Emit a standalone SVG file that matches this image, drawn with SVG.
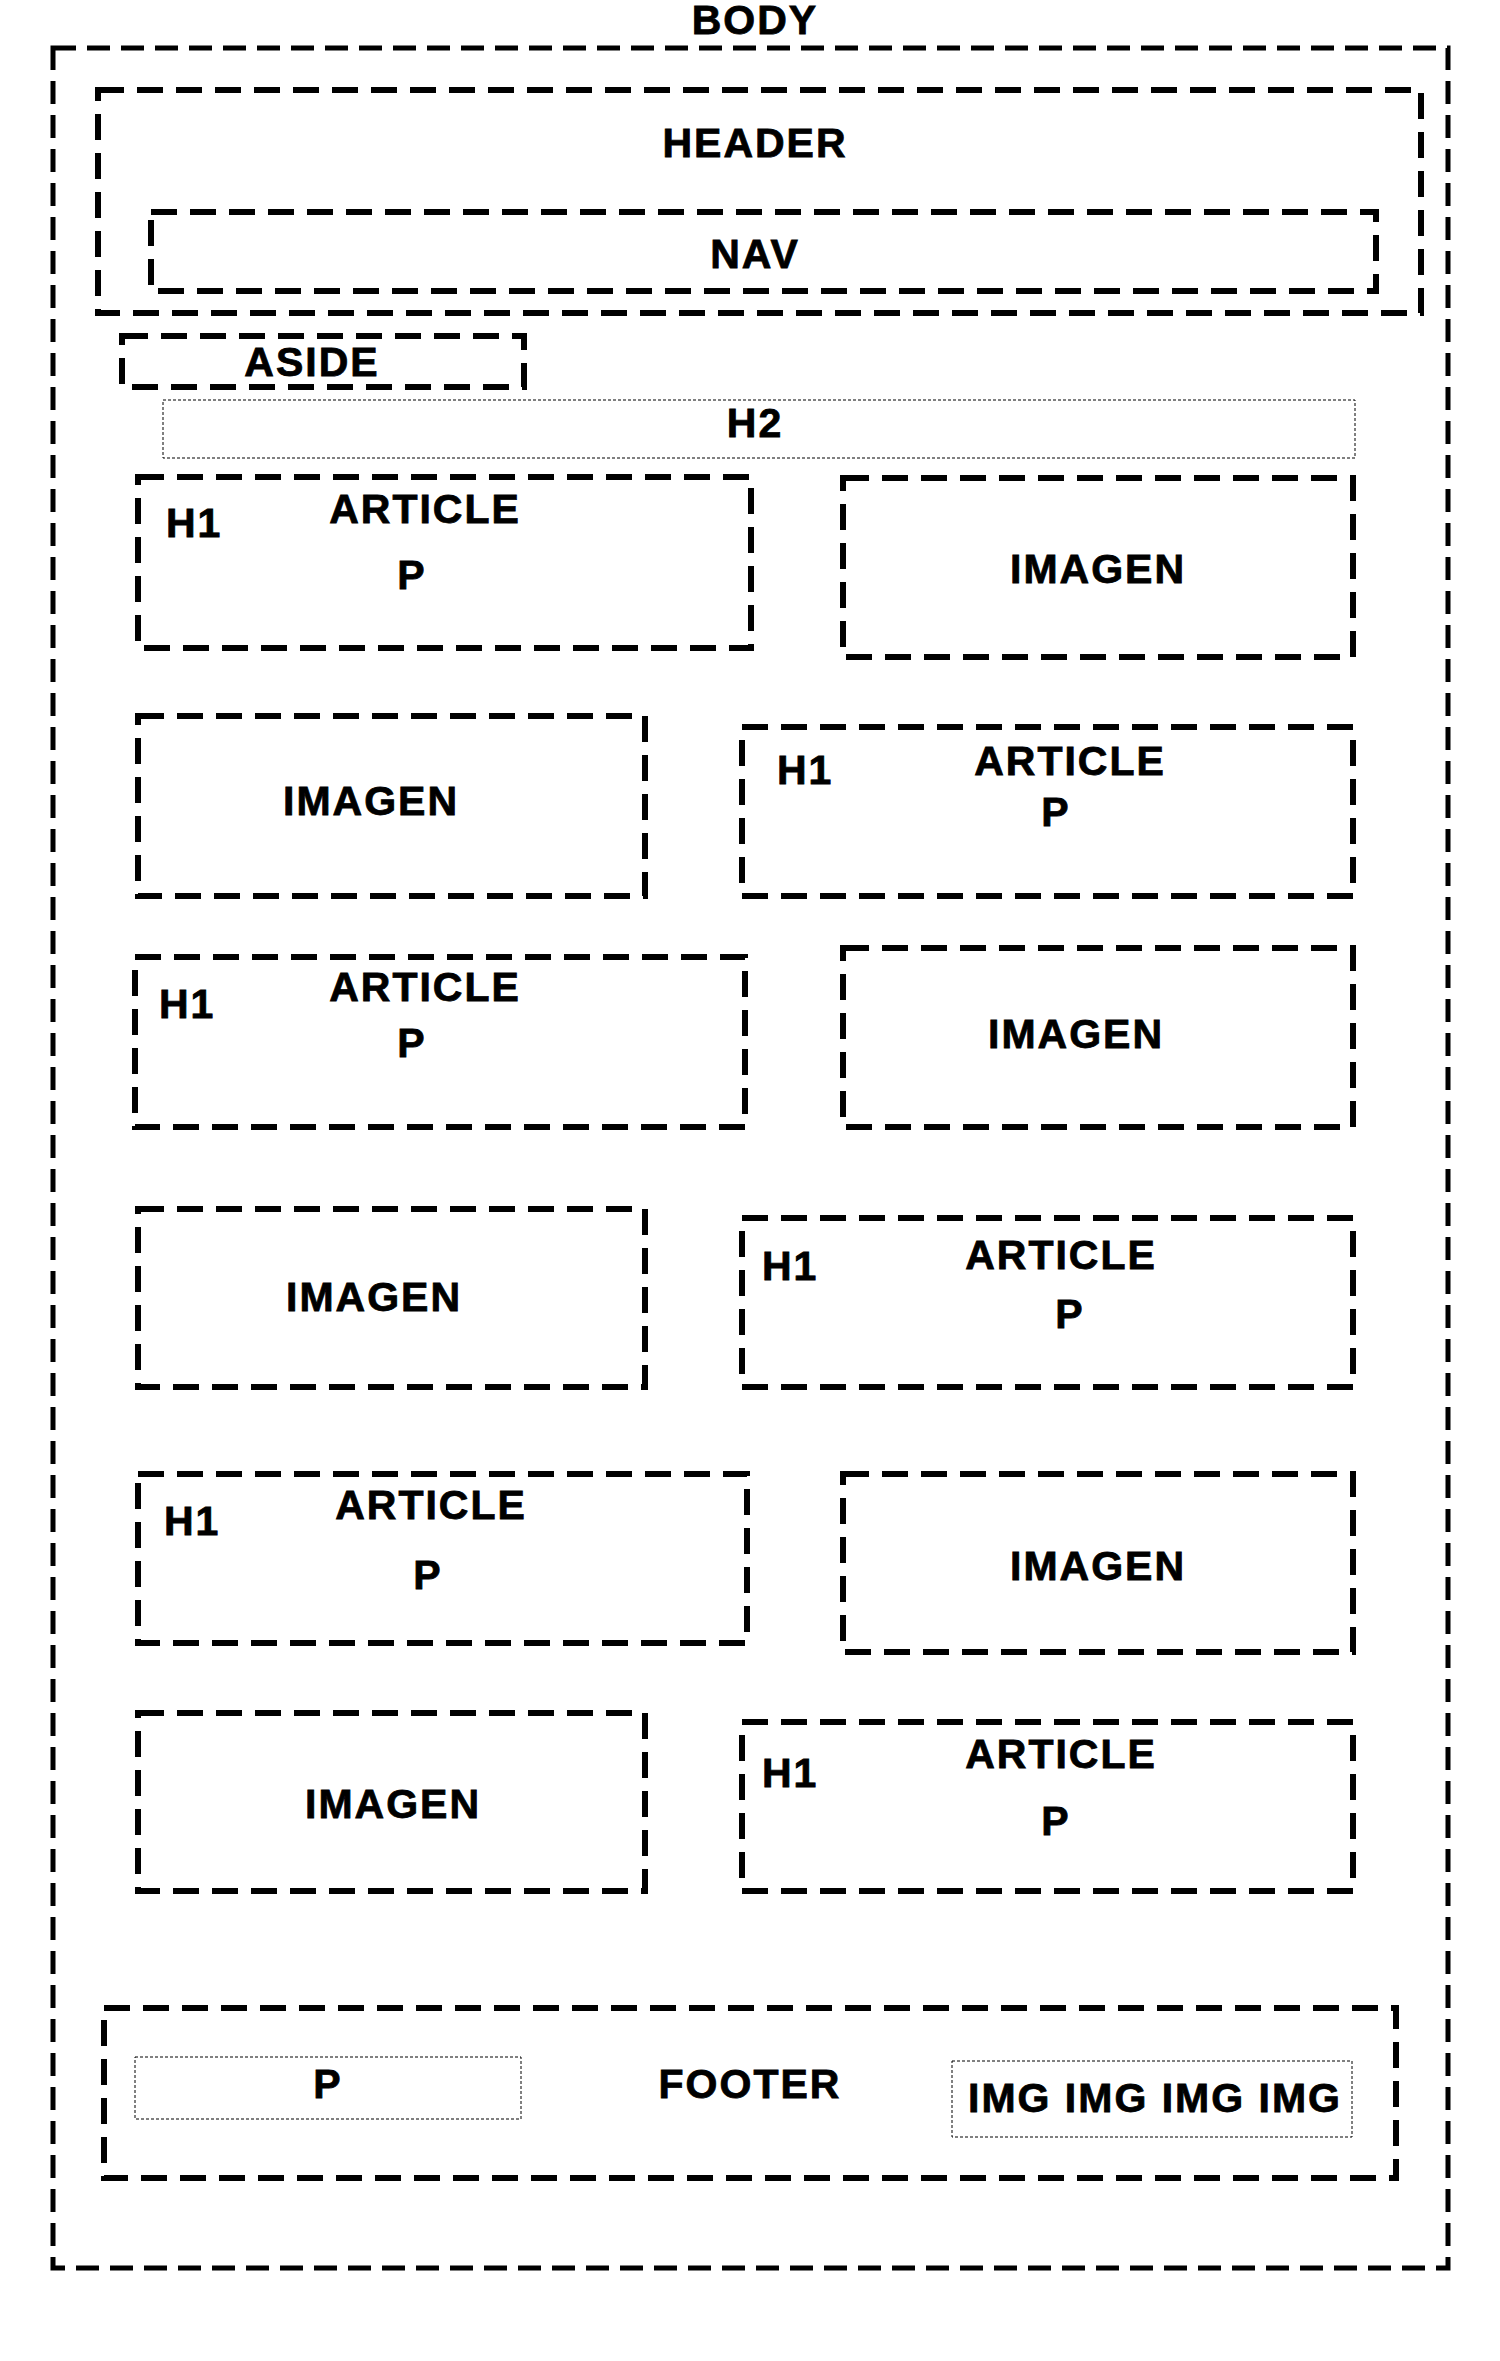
<svg xmlns="http://www.w3.org/2000/svg" width="1500" height="2361" viewBox="0 0 1500 2361">
<style>
  .lbl { font-family: "Liberation Sans", Arial, sans-serif; font-weight: bold; font-size: 41px; letter-spacing: 2px; fill: #000; stroke: #000; stroke-width: 0.8; text-anchor: middle; }
  .st { text-anchor: start; }
  .body { fill: none; stroke: #000; stroke-width: 5; stroke-dasharray: 23 11; }
  .box { fill: none; stroke: #000; stroke-width: 6; stroke-dasharray: 26 13; }
  .thin { fill: none; stroke: #000; stroke-width: 1; stroke-dasharray: 3 2; }
</style>
<rect x="0" y="0" width="1500" height="2361" fill="#fff"/>
<g id="body">
  <rect class="body" x="53" y="48" width="1395" height="2220"/>
  <text class="lbl" x="755" y="34">BODY</text>
</g>
<g id="header">
  <rect class="box" x="98" y="90" width="1323" height="223"/>
  <text class="lbl" x="755" y="157">HEADER</text>
</g>
<g id="nav">
  <rect class="box" x="151" y="212" width="1225" height="79"/>
  <text class="lbl" x="755" y="268">NAV</text>
</g>
<g id="aside">
  <rect class="box" x="122" y="336" width="402" height="51"/>
  <text class="lbl" x="312" y="376">ASIDE</text>
</g>
<g id="h2">
  <rect class="thin" x="163" y="400" width="1192" height="58"/>
  <text class="lbl" x="755" y="437">H2</text>
</g>

<g id="article1">
  <rect class="box" x="138" y="477" width="613" height="171"/>
  <text class="lbl st" x="166" y="537">H1</text>
  <text class="lbl" x="425" y="523">ARTICLE</text>
  <text class="lbl" x="412" y="589">P</text>
</g>
<g id="imagen1">
  <rect class="box" x="843" y="478" width="510" height="179"/>
  <text class="lbl" x="1098" y="583">IMAGEN</text>
</g>

<g id="imagen2">
  <rect class="box" x="138" y="716" width="507" height="180"/>
  <text class="lbl" x="371" y="815">IMAGEN</text>
</g>
<g id="article2">
  <rect class="box" x="742" y="727" width="611" height="169"/>
  <text class="lbl st" x="777" y="784">H1</text>
  <text class="lbl" x="1070" y="775">ARTICLE</text>
  <text class="lbl" x="1056" y="826">P</text>
</g>

<g id="article3">
  <rect class="box" x="135" y="957" width="610" height="170"/>
  <text class="lbl st" x="159" y="1018">H1</text>
  <text class="lbl" x="425" y="1001">ARTICLE</text>
  <text class="lbl" x="412" y="1057">P</text>
</g>
<g id="imagen3">
  <rect class="box" x="843" y="948" width="510" height="179"/>
  <text class="lbl" x="1076" y="1048">IMAGEN</text>
</g>

<g id="imagen4">
  <rect class="box" x="138" y="1209" width="507" height="178"/>
  <text class="lbl" x="374" y="1311">IMAGEN</text>
</g>
<g id="article4">
  <rect class="box" x="742" y="1218" width="611" height="169"/>
  <text class="lbl st" x="762" y="1280">H1</text>
  <text class="lbl" x="1061" y="1269">ARTICLE</text>
  <text class="lbl" x="1070" y="1328">P</text>
</g>

<g id="article5">
  <rect class="box" x="138" y="1474" width="609" height="169"/>
  <text class="lbl st" x="164" y="1535">H1</text>
  <text class="lbl" x="431" y="1519">ARTICLE</text>
  <text class="lbl" x="428" y="1589">P</text>
</g>
<g id="imagen5">
  <rect class="box" x="843" y="1474" width="510" height="178"/>
  <text class="lbl" x="1098" y="1580">IMAGEN</text>
</g>

<g id="imagen6">
  <rect class="box" x="138" y="1713" width="507" height="178"/>
  <text class="lbl" x="393" y="1818">IMAGEN</text>
</g>
<g id="article6">
  <rect class="box" x="742" y="1722" width="611" height="169"/>
  <text class="lbl st" x="762" y="1787">H1</text>
  <text class="lbl" x="1061" y="1768">ARTICLE</text>
  <text class="lbl" x="1056" y="1835">P</text>
</g>

<g id="footer">
  <rect class="box" x="104" y="2008" width="1292" height="170"/>
  <text class="lbl" x="750" y="2098">FOOTER</text>
</g>
<g id="footer-p">
  <rect class="thin" x="135" y="2057" width="386" height="62"/>
  <text class="lbl" x="328" y="2098">P</text>
</g>
<g id="footer-img">
  <rect class="thin" x="952" y="2061" width="400" height="76"/>
  <text class="lbl" x="1155" y="2112">IMG IMG IMG IMG</text>
</g>
</svg>
